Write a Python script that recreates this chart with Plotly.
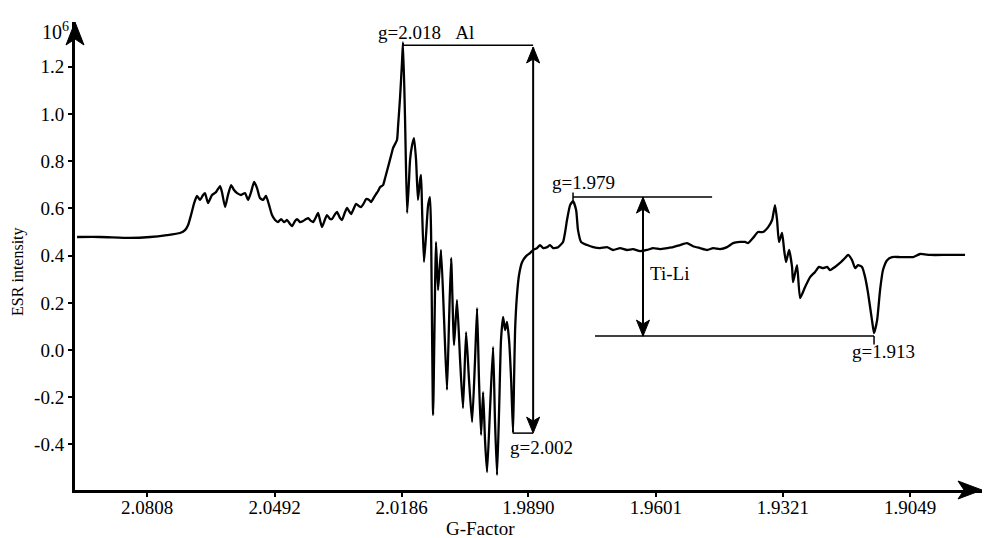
import plotly.graph_objects as go

# ---------------- data ----------------
# x: relative magnetic field, expressed as 1000/g (the G-Factor axis is linear in field)
FIELD = [476.51, 477.85, 479.59, 480.76, 481.74, 482.50, 482.79, 482.97, 483.14, 483.32,
         483.49, 483.66, 483.84, 483.95, 484.13, 484.36, 484.59, 484.83, 484.94, 485.12,
         485.29, 485.47, 485.64, 485.82, 486.05, 486.28, 486.46, 486.63, 486.81, 486.98,
         487.15, 487.33, 487.50, 487.68, 487.85, 488.03, 488.20, 488.38, 488.55, 488.73,
         488.90, 489.02, 489.19, 489.31, 489.48, 489.66, 489.83, 489.95, 490.12, 490.24,
         490.41, 490.53, 490.64, 490.76, 490.94, 491.05, 491.23, 491.34, 491.52, 491.63,
         491.81, 491.92, 492.10, 492.22, 492.33, 492.45, 492.62, 492.74, 492.91, 493.03,
         493.20, 493.32, 493.50, 493.61, 493.79, 493.90, 494.02, 494.14, 494.31, 494.43,
         494.83, 494.89, 495.12, 495.18, 495.30, 495.41, 495.47, 495.59, 495.71, 495.82,
         495.88, 496.00, 496.11, 496.23, 496.34, 496.46, 496.52, 496.58, 496.69, 496.81,
         496.93, 497.04, 497.10, 497.22, 497.39, 497.51, 497.68, 497.86, 498.03, 498.15,
         498.27, 498.44, 498.61, 498.79, 498.96, 499.14, 499.31, 499.49, 499.66, 499.78,
         499.89, 500.01, 500.13, 500.24, 500.36, 500.53, 500.71, 500.82, 500.94, 501.06,
         501.17, 501.29, 501.41, 501.52, 501.64, 501.76, 501.87, 501.93, 501.99, 502.10,
         502.22, 502.40, 502.63, 502.86, 503.04, 503.27, 503.44, 503.62, 503.85, 504.02,
         504.20, 504.49, 504.78, 504.90, 505.01, 505.19, 505.36, 505.54, 505.65, 505.83,
         506.18, 506.53, 506.93, 507.34, 507.69, 508.10, 508.50, 508.85, 509.26, 509.67,
         510.02, 510.42, 510.83, 511.18, 511.59, 511.99, 512.34, 512.75, 513.16, 513.51,
         513.91, 514.32, 514.67, 515.08, 515.37, 515.54, 515.83, 516.12, 516.41, 516.71,
         516.94, 517.11, 517.23, 517.34, 517.52, 517.64, 517.75, 517.93, 518.10, 518.16,
         518.39, 518.57, 518.86, 519.15, 519.44, 519.67, 519.90, 520.14, 520.31, 520.60,
         520.89, 521.18, 521.36, 521.59, 521.77, 521.94, 522.17, 522.35, 522.52, 522.75,
         522.87, 523.05, 523.22, 523.39, 523.63, 523.92, 524.38, 524.85, 525.14, 525.55,
         526.13, 527.12, 528.16]

ESR = [0.479, 0.479, 0.475, 0.479, 0.487, 0.496, 0.508, 0.530, 0.572, 0.623,
       0.653, 0.636, 0.657, 0.665, 0.623, 0.657, 0.669, 0.695, 0.669, 0.606,
       0.657, 0.699, 0.678, 0.665, 0.657, 0.665, 0.636, 0.669, 0.712, 0.686,
       0.644, 0.636, 0.653, 0.614, 0.572, 0.551, 0.542, 0.555, 0.542, 0.551,
       0.534, 0.525, 0.547, 0.555, 0.542, 0.547, 0.555, 0.559, 0.547, 0.542,
       0.564, 0.581, 0.551, 0.521, 0.555, 0.572, 0.555, 0.555, 0.576, 0.585,
       0.559, 0.551, 0.585, 0.602, 0.589, 0.576, 0.602, 0.619, 0.610, 0.606,
       0.623, 0.640, 0.636, 0.627, 0.648, 0.661, 0.674, 0.691, 0.699, 0.729,
       0.839, 0.856, 0.890, 0.945, 1.072, 1.216, 1.305, 0.975, 0.581, 0.720,
       0.805, 0.869, 0.898, 0.805, 0.636, 0.720, 0.742, 0.593, 0.373, 0.487,
       0.614, 0.648, 0.508, -0.275, 0.458, 0.254, 0.424, 0.127, -0.169, 0.127,
       0.390, 0.021, 0.212, -0.042, -0.246, 0.076, -0.127, -0.305, -0.042, 0.178,
       -0.127, -0.360, -0.178, -0.381, -0.517, -0.254, 0.013, -0.297, -0.530, -0.254,
       0.042, 0.140, 0.085, 0.119, 0.042, -0.127, -0.352, -0.127, 0.085, 0.233,
       0.318, 0.373, 0.398, 0.411, 0.424, 0.432, 0.445, 0.432, 0.436, 0.445,
       0.432, 0.436, 0.458, 0.500, 0.551, 0.614, 0.631, 0.593, 0.508, 0.458,
       0.445, 0.436, 0.432, 0.436, 0.424, 0.432, 0.424, 0.428, 0.419, 0.424,
       0.432, 0.428, 0.432, 0.436, 0.445, 0.453, 0.440, 0.432, 0.424, 0.432,
       0.428, 0.436, 0.453, 0.458, 0.458, 0.453, 0.475, 0.500, 0.500, 0.521,
       0.551, 0.614, 0.551, 0.458, 0.496, 0.424, 0.373, 0.424, 0.352, 0.288,
       0.360, 0.220, 0.267, 0.309, 0.331, 0.352, 0.347, 0.352, 0.339, 0.352,
       0.369, 0.390, 0.403, 0.381, 0.347, 0.360, 0.352, 0.309, 0.242, 0.127,
       0.072, 0.127, 0.254, 0.339, 0.381, 0.394, 0.394, 0.394, 0.394, 0.407,
       0.403, 0.403, 0.403]

G_TICKS = ["2.0808", "2.0492", "2.0186", "1.9890", "1.9601", "1.9321", "1.9049"]
Y_TICKS = [-0.4, -0.2, 0.0, 0.2, 0.4, 0.6, 0.8, 1.0, 1.2]
Y_TICKTEXT = ["-0.4", "-0.2", "0.0", "0.2", "0.4", "0.6", "0.8", "1.0", "1.2"]

# reference marks (field, intensity)
AL_PEAK = (495.47, 1.292)
AL_LOW = (501.87, -0.352)
AL_ARROW_X = 503.04
TI_PEAK = (505.36, 0.648)
TI_LOW = (522.87, 0.059)
TI_ARROW_X = 509.43
TI_TOP_END = 513.45
TI_BOTTOM_START = 506.64

X_RANGE = [476.39, 529.15]
Y_RANGE = [-0.593, 1.390]

FONT = "Liberation Serif"

fig = go.Figure()
fig.add_trace(go.Scatter(x=FIELD, y=ESR, mode="lines",
                         line=dict(color="black", width=2.3, shape="spline", smoothing=0.5),
                         hoverinfo="skip", showlegend=False))

shapes = []
def seg(x0, y0, x1, y1, w=1.5):
    shapes.append(dict(type="line", xref="x", yref="y", x0=x0, y0=y0, x1=x1, y1=y1,
                       line=dict(color="black", width=w)))

def head(x, y, up, xref="x", yref="y", w=6.5, L=16, notch=12):
    s = -1 if up else 1
    path = f"M0,0 L{-w},{s*L} L0,{s*notch} L{w},{s*L} Z"
    shapes.append(dict(type="path", xref=xref, yref=yref, xsizemode="pixel", ysizemode="pixel",
                       xanchor=x, yanchor=y, path=path, fillcolor="black",
                       line=dict(color="black", width=1)))

# Al marks
seg(AL_PEAK[0], AL_PEAK[1], AL_ARROW_X, AL_PEAK[1])
seg(AL_ARROW_X, AL_PEAK[1] - 0.01, AL_ARROW_X, AL_LOW[1] + 0.01, w=2)
seg(AL_LOW[0], AL_LOW[1], AL_ARROW_X, AL_LOW[1])
head(AL_ARROW_X, AL_PEAK[1] - 0.008, True)
head(AL_ARROW_X, AL_LOW[1], False)

# Ti-Li marks
seg(TI_PEAK[0], TI_PEAK[1], TI_TOP_END, TI_PEAK[1])
seg(TI_PEAK[0], TI_PEAK[1] - 0.02, TI_PEAK[0], TI_PEAK[1] + 0.02)
seg(TI_ARROW_X, TI_PEAK[1], TI_ARROW_X, TI_LOW[1], w=2)
seg(TI_BOTTOM_START, TI_LOW[1], TI_LOW[0], TI_LOW[1])
seg(TI_LOW[0], TI_LOW[1], TI_LOW[0], TI_LOW[1] - 0.035)
head(TI_ARROW_X, TI_PEAK[1], True)
head(TI_ARROW_X, TI_LOW[1], False)

# axis arrows (paper corners)
shapes.append(dict(type="path", xref="paper", yref="paper", xsizemode="pixel", ysizemode="pixel",
                   xanchor=0, yanchor=1, path="M0,0 L-9,-23 L0,-17 L9,-23 Z",
                   fillcolor="black", line=dict(color="black", width=1)))
shapes.append(dict(type="path", xref="paper", yref="paper", xsizemode="pixel", ysizemode="pixel",
                   xanchor=1, yanchor=0, path="M0,0 L-24,9 L-18,0 L-24,-9 Z",
                   fillcolor="black", line=dict(color="black", width=1)))

tf = dict(family=FONT, size=19, color="black")
annotations = [
    dict(x=493.90, y=1.347, xref="x", yref="y", text="g=2.018&nbsp;&nbsp;&nbsp;Al",
         showarrow=False, xanchor="left", yanchor="middle", font=tf),
    dict(x=501.58, y=-0.411, xref="x", yref="y", text="g=2.002",
         showarrow=False, xanchor="left", yanchor="middle", font=tf),
    dict(x=504.02, y=0.712, xref="x", yref="y", text="g=1.979",
         showarrow=False, xanchor="left", yanchor="middle", font=tf),
    dict(x=509.72, y=0.326, xref="x", yref="y", text="Ti-Li",
         showarrow=False, xanchor="left", yanchor="middle", font=tf),
    dict(x=521.47, y=-0.008, xref="x", yref="y", text="g=1.913",
         showarrow=False, xanchor="left", yanchor="middle", font=tf),
    dict(x=0, y=0.466, xref="paper", yref="paper", text="ESR intensity", textangle=-90,
         showarrow=False, xanchor="center", yanchor="middle", xshift=-57,
         font=dict(family=FONT, size=16, color="black")),
    dict(x=500.0, y=0, xref="x", yref="paper", text="G-Factor",
         showarrow=False, xanchor="center", yanchor="middle", yshift=-38, font=tf),
    dict(x=0, y=1, xref="paper", yref="paper", text="10<sup>6</sup>",
         showarrow=False, xanchor="right", yanchor="middle", xshift=-4, yshift=-9,
         font=dict(family=FONT, size=20, color="black")),
]

fig.update_layout(
    width=1000, height=538,
    margin=dict(l=75, r=18, t=22, b=48),
    paper_bgcolor="white", plot_bgcolor="white",
    shapes=shapes, annotations=annotations,
    showlegend=False,
)
fig.update_xaxes(range=X_RANGE, tickvals=[1000 / float(g) for g in G_TICKS], ticktext=G_TICKS,
                 showgrid=False, zeroline=False, showline=True, linecolor="black", linewidth=3,
                 ticks="outside", ticklen=4, tickwidth=2, tickcolor="black",
                 ticklabelstandoff=-6, tickfont=tf)
fig.update_yaxes(range=Y_RANGE, tickvals=Y_TICKS, ticktext=Y_TICKTEXT,
                 showgrid=False, zeroline=False, showline=True, linecolor="black", linewidth=3,
                 ticks="outside", ticklen=4, tickwidth=2, tickcolor="black",
                 tickfont=tf)

fig.write_html("out.html", config={"displayModeBar": False},
               post_script="document.body.style.margin='0';document.body.style.overflow='hidden';")
